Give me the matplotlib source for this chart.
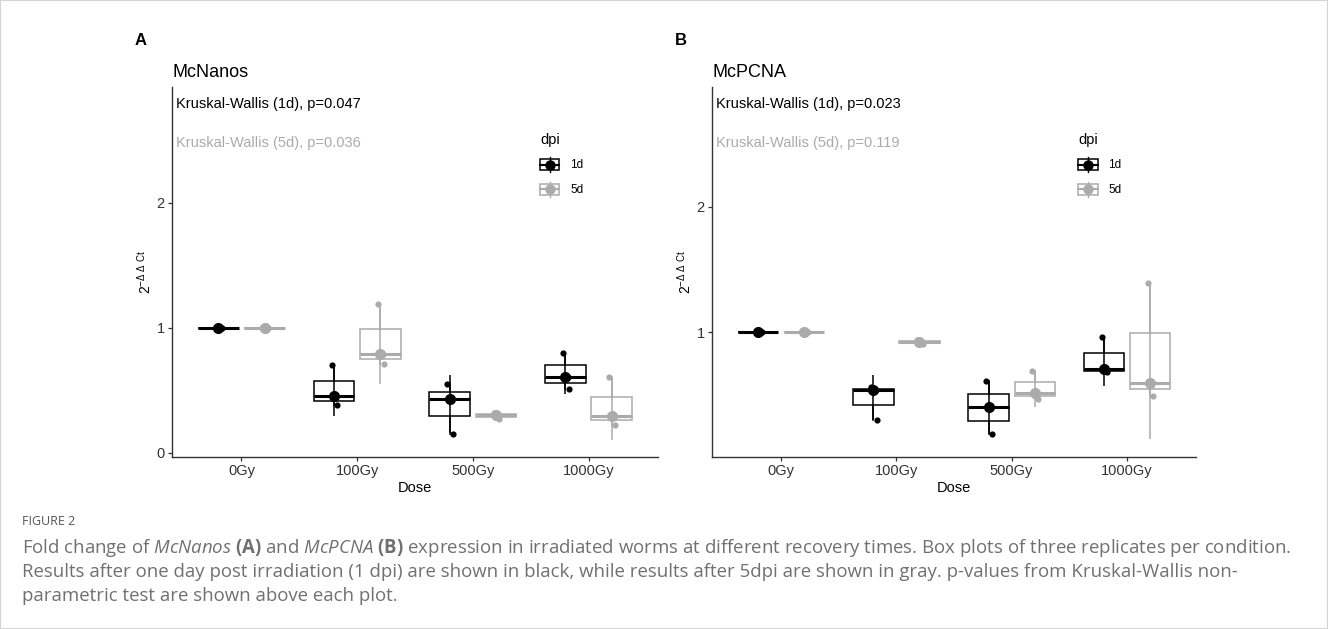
import numpy as np
import matplotlib
matplotlib.use('Agg')
import matplotlib.pyplot as plt
from matplotlib.legend_handler import HandlerBase
from matplotlib.lines import Line2D
from matplotlib.patches import Rectangle

plt.rcParams['font.family'] = ['Liberation Sans', 'DejaVu Sans']
plt.rcParams['mathtext.fontset'] = 'custom'
plt.rcParams['mathtext.rm'] = 'Liberation Sans'
plt.rcParams['mathtext.it'] = 'Open Sans:italic'
plt.rcParams['mathtext.bf'] = 'Open Sans:bold'

# ---- data ----
doses = ['0Gy', '100Gy', '500Gy', '1000Gy']
groups = ['1d', '5d']

nanos_1d = [[1.0, 1.0, 1.0], [0.379, 0.454, 0.698], [0.150, 0.430, 0.547], [0.507, 0.608, 0.795]]
nanos_5d = [[1.0, 1.0, 1.0], [0.710, 0.787, 1.187], [0.268, 0.300, 0.318], [0.222, 0.294, 0.603]]
nanos_1d_range = [(1.0, 1.0), (0.294, 0.715), (0.155, 0.622), (0.467, 0.800)]
nanos_5d_range = [(1.0, 1.0), (0.55, 1.18), (0.27, 0.32), (0.10, 0.60)]

pcna_1d = [[1.0, 1.0, 1.0], [0.301, 0.540, 0.562], [0.190, 0.402, 0.612], [0.680, 0.708, 0.966]]
pcna_5d = [[1.0, 1.0, 1.0], [0.910, 0.925, 0.940], [0.466, 0.514, 0.692], [0.495, 0.594, 1.395]]
pcna_1d_range = [(1.0, 1.0), (0.30, 0.66), (0.19, 0.612), (0.572, 0.965)]
pcna_5d_range = [(1.0, 1.0), (0.91, 0.94), (0.407, 0.69), (0.15, 1.395)]

nanos_p = ['p=0.047', 'p=0.036']
pcna_p = ['p=0.023', 'p=0.119']

# ---- style ----
W, H = 1328, 629
BLACK = '#000000'
GRAY = '#ababab'
AXCOL = '#333333'
JIT = np.array([0.03, 0.02, -0.02])


def px_rect(left, top, right, bottom):
    return [left / W, 1 - bottom / H, (right - left) / W, (bottom - top) / H]


class BoxKeyHandler(HandlerBase):
    def create_artists(self, legend, orig_handle, xdescent, ydescent,
                       width, height, fontsize, trans):
        c = orig_handle.get_color()
        x0, y0 = -xdescent, -ydescent
        bh = height * 0.7
        by = y0 + (height - bh) / 2
        rect = Rectangle((x0, by), width, bh, facecolor='white', edgecolor=c,
                         lw=1.1, transform=trans)
        hline = Line2D([x0, x0 + width], [y0 + height / 2] * 2, color=c, lw=1.5,
                       transform=trans)
        vline = Line2D([x0 + width / 2] * 2, [y0, y0 + height], color=c, lw=1.0,
                       transform=trans)
        dot = Line2D([x0 + width / 2], [y0 + height / 2], marker='o', ms=6.5,
                     color=c, transform=trans)
        return [rect, hline, vline, dot]


def draw_panel(ax, vals_1d, vals_5d, rng_1d, rng_5d, title, letter, pvals, ylim):
    x = np.arange(1, len(doses) + 1)
    for vals, rng, off, color in [(vals_1d, rng_1d, -0.2, BLACK),
                                  (vals_5d, rng_5d, 0.2, GRAY)]:
        pos = x + off
        ax.boxplot(vals, positions=pos, widths=0.35, whis=(0, 100),
                   showcaps=False, showfliers=False, patch_artist=True,
                   manage_ticks=False,
                   boxprops=dict(facecolor='white', edgecolor=color, linewidth=1.1),
                   medianprops=dict(color=color, linewidth=2.2),
                   whiskerprops=dict(color=color, linewidth=1.1),
                   zorder=2)
        lo = [r[0] for r in rng]
        hi = [r[1] for r in rng]
        ax.vlines(pos, lo, hi, color=color, lw=1.1, zorder=3)
        for i, v in enumerate(vals):
            ax.scatter(pos[i] + JIT, np.sort(v), s=20, color=color,
                       linewidths=0, zorder=4)
        meds = [np.median(v) for v in vals]
        ax.plot(pos, meds, 'o', ms=7, color=color, ls='none', zorder=5)

    ax.set_xlim(0.4, 4.6)
    ax.set_ylim(*ylim)
    ax.set_xticks(x)
    ax.set_xticklabels(doses)
    ax.yaxis.set_major_locator(plt.MultipleLocator(1))
    for s in ['top', 'right']:
        ax.spines[s].set_visible(False)
    for s in ['left', 'bottom']:
        ax.spines[s].set_color(AXCOL)
        ax.spines[s].set_linewidth(1.0)
    ax.tick_params(direction='out', length=2.8, width=0.9, color=AXCOL,
                   labelcolor=AXCOL, labelsize=10.5, pad=2.5)
    ax.set_xlabel('Dose', fontsize=10.5, labelpad=2)
    ax.set_ylabel(r'$2^{-\Delta\ \Delta\ \mathrm{Ct}}$', fontsize=10, labelpad=2)

    ax.text(0.0, 1.028, title, transform=ax.transAxes, fontsize=13,
            ha='left', va='baseline')
    ax.text(-0.077, 1.115, letter, transform=ax.transAxes, fontsize=12,
            fontweight='bold', ha='left', va='baseline')
    ax.text(0.008, 0.955, 'Kruskal-Wallis (1d), ' + pvals[0], transform=ax.transAxes,
            fontsize=10.5, color=BLACK, ha='left', va='center')
    ax.text(0.008, 0.850, 'Kruskal-Wallis (5d), ' + pvals[1], transform=ax.transAxes,
            fontsize=10.5, color=GRAY, ha='left', va='center')

    handles = [Line2D([], [], color=BLACK), Line2D([], [], color=GRAY)]
    ax.legend(handles, groups, handler_map={Line2D: BoxKeyHandler()},
              title='dpi', title_fontsize=10.5, fontsize=8.5, frameon=False,
              loc='upper left', bbox_to_anchor=(0.757, 0.876), borderpad=0,
              borderaxespad=0, handlelength=1.65, handleheight=1.55,
              handletextpad=0.9, labelspacing=0.85, alignment='left')


fig = plt.figure(figsize=(W / 100, H / 100), dpi=100)
ax_a = fig.add_axes(px_rect(172, 87.3, 658, 456.7))
ax_b = fig.add_axes(px_rect(712, 87.3, 1196, 456.7))

draw_panel(ax_a, nanos_1d, nanos_5d, nanos_1d_range, nanos_5d_range,
           'McNanos', 'A', nanos_p, (-0.032, 2.923))
draw_panel(ax_b, pcna_1d, pcna_5d, pcna_1d_range, pcna_5d_range,
           'McPCNA', 'B', pcna_p, (0.009, 2.952))

# caption
cap_col = '#707070'
fig.text(22 / W, 1 - 525 / H, 'FIGURE 2', fontsize=9, color='#555555',
         family='Open Sans', va='baseline')
lines = [
    r'Fold change of $\mathit{McNanos}$ $\mathbf{(A)}$ and $\mathit{McPCNA}$ $\mathbf{(B)}$'
    ' expression in irradiated worms at different recovery times. Box plots of three replicates per condition.',
    'Results after one day post irradiation (1 dpi) are shown in black, while results after 5dpi are shown'
    ' in gray. p-values from Kruskal-Wallis non-',
    'parametric test are shown above each plot.',
]
for i, line in enumerate(lines):
    fig.text(22 / W, 1 - (553 + 24 * i) / H, line, fontsize=13.4, color=cap_col,
             family='Open Sans', va='baseline')

fig.patches.append(Rectangle((0, 0), 1, 1, transform=fig.transFigure, fill=False,
                             edgecolor='#d4d4d4', lw=1.5))

fig.savefig('out.png', dpi=100)
